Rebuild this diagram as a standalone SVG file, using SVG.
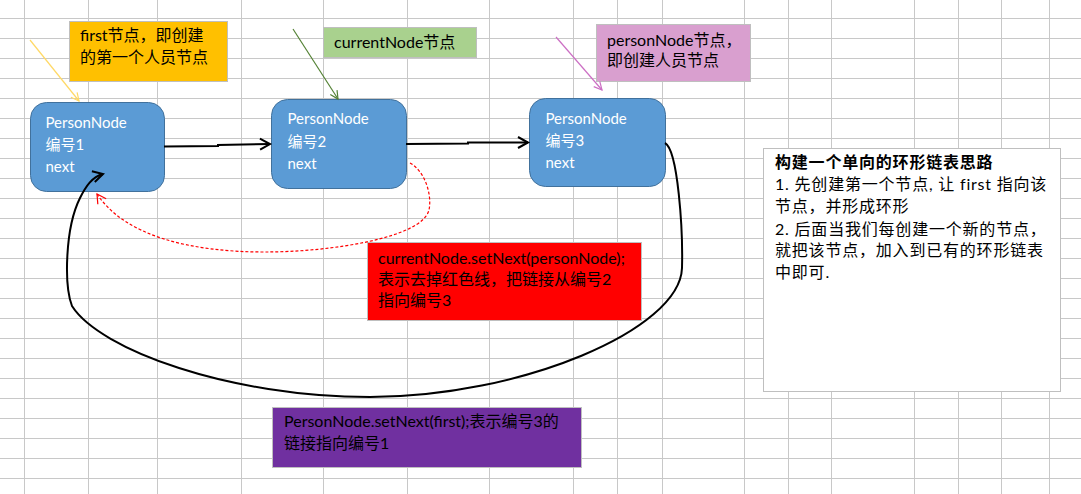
<svg xmlns="http://www.w3.org/2000/svg" width="1081" height="494" viewBox="0 0 1081 494">
<style>
text{font-family:Lato,"Noto Sans CJK SC",sans-serif;font-size:16px;fill:#000}
.nt{font-size:15px;fill:#fff}
.sm{letter-spacing:0.8px}
.box{stroke:#bfbfbf;stroke-width:1}
.node{fill:#5b9bd5;stroke:#41719c;stroke-width:1}
.grid{stroke:#c8c8c8;stroke-width:1;fill:none}
</style>
<defs>
<marker id="ab" viewBox="-12 -8 14 16" refX="0" refY="0" markerWidth="14" markerHeight="16" markerUnits="userSpaceOnUse" orient="auto" overflow="visible"><path d="M-10,-5.5 L0,0 L-10,5.5" fill="none" stroke="#000" stroke-width="2"/></marker>
<marker id="ar" viewBox="-12 -8 14 16" refX="0" refY="0" markerWidth="14" markerHeight="16" markerUnits="userSpaceOnUse" orient="auto" overflow="visible"><path d="M-9,-5 L0,0 L-9,5" fill="none" stroke="#ff0000" stroke-width="1.2"/></marker>
<marker id="ay" viewBox="-12 -8 14 16" refX="0" refY="0" markerWidth="14" markerHeight="16" markerUnits="userSpaceOnUse" orient="auto" overflow="visible"><path d="M-8,-4 L0,0 L-8,4" fill="none" stroke="#ffd966" stroke-width="1.2"/></marker>
<marker id="ag" viewBox="-12 -8 14 16" refX="0" refY="0" markerWidth="14" markerHeight="16" markerUnits="userSpaceOnUse" orient="auto" overflow="visible"><path d="M-8,-4 L0,0 L-8,4" fill="none" stroke="#548235" stroke-width="1.2"/></marker>
<marker id="ap" viewBox="-12 -8 14 16" refX="0" refY="0" markerWidth="14" markerHeight="16" markerUnits="userSpaceOnUse" orient="auto" overflow="visible"><path d="M-8,-4 L0,0 L-8,4" fill="none" stroke="#cc6fc4" stroke-width="1.2"/></marker>
</defs>
<rect x="0" y="0" width="1081" height="494" fill="#fff"/>
<g id="grid">
<path class="grid" d="M24.5,0V494M88.5,0V494M157.5,0V494M241.5,0V494M323.5,0V494M407.5,0V494M489.5,0V494M573.5,0V494M617.5,0V494M662.5,0V494M744.5,0V494M788.5,0V494M831.5,0V494M914.5,0V494M958.5,0V494M1001.5,0V494M1049.5,0V494"/>
<path class="grid" d="M0,18.5H1081M0,38.5H1081M0,58.5H1081M0,78.5H1081M0,98.5H1081M0,118.5H1081M0,138.5H1081M0,158.5H1081M0,178.5H1081M0,198.5H1081M0,218.5H1081M0,238.5H1081M0,258.5H1081M0,278.5H1081M0,298.5H1081M0,318.5H1081M0,338.5H1081M0,358.5H1081M0,378.5H1081M0,398.5H1081M0,418.5H1081M0,438.5H1081M0,458.5H1081M0,478.5H1081"/>
</g>
<g id="first-label">
<rect class="box" x="69.5" y="21.5" width="158" height="60" fill="#ffc000"/>
<text x="80" y="41">first节点，即创建</text>
<text x="80" y="63">的第一个人员节点</text>
</g>
<g id="current-label">
<rect class="box" x="323.5" y="27.5" width="153" height="30" fill="#a9d18e"/>
<text x="334" y="48">currentNode节点</text>
</g>
<g id="person-label">
<rect class="box" x="596.5" y="24.5" width="154" height="57" fill="#d99fcf"/>
<text x="607" y="46">personNode节点，</text>
<text x="607" y="66">即创建人员节点</text>
</g>
<g id="node1">
<rect class="node" x="30.5" y="102.5" width="134" height="89" rx="16"/>
<text class="nt" x="45.5" y="128">PersonNode</text>
<text class="nt" x="45.5" y="150">编号1</text>
<text class="nt" x="45.5" y="172">next</text>
</g>
<g id="node2">
<rect class="node" x="271.5" y="99.5" width="135" height="89" rx="16"/>
<text class="nt" x="287.5" y="124">PersonNode</text>
<text class="nt" x="287.5" y="147">编号2</text>
<text class="nt" x="287.5" y="169">next</text>
</g>
<g id="node3">
<rect class="node" x="529.5" y="98.5" width="136" height="88" rx="16"/>
<text class="nt" x="545.5" y="124">PersonNode</text>
<text class="nt" x="545.5" y="146">编号3</text>
<text class="nt" x="545.5" y="168">next</text>
</g>
<g id="red-note">
<rect class="box" x="367.5" y="242.5" width="274" height="78" fill="#ff0000"/>
<text x="378" y="264">currentNode.setNext(personNode);</text>
<text x="378" y="285">表示去掉红色线，把链接从编号2</text>
<text x="378" y="306">指向编号3</text>
</g>
<g id="purple-note">
<rect class="box" x="272.5" y="407.5" width="309" height="60" fill="#7030a0"/>
<text x="284" y="427">PersonNode.setNext(first);表示编号3的</text>
<text x="284" y="449">链接指向编号1</text>
</g>
<g id="summary">
<rect class="box" x="763.5" y="148.5" width="297" height="243" fill="#fff"/>
<text class="sm" x="775" y="168" font-weight="bold">构建一个单向的环形链表思路</text>
<text class="sm" x="775" y="190">1. 先创建第一个节点, 让 first 指向该</text>
<text class="sm" x="775" y="212">节点，并形成环形</text>
<text class="sm" x="775" y="234.5">2. 后面当我们每创建一个新的节点，</text>
<text class="sm" x="775" y="256">就把该节点，加入到已有的环形链表</text>
<text class="sm" x="775" y="278">中即可.</text>
</g>
<g id="connectors" fill="none">
<path d="M30,40 L79,101" stroke="#ffd966" stroke-width="1.2" marker-end="url(#ay)"/>
<path d="M293,29 L338,99" stroke="#548235" stroke-width="1.2" marker-end="url(#ag)"/>
<path d="M556,37 L602,90" stroke="#cc6fc4" stroke-width="1.2" marker-end="url(#ap)"/>
<path d="M164,146.5 L218,146 L218,145 L270,144" stroke="#000" stroke-width="2" marker-end="url(#ab)"/>
<path d="M406,144 L468,143.5 L468,142.5 L528,142.5" stroke="#000" stroke-width="2" marker-end="url(#ab)"/>
<path d="M665,143 C678,150 683,230 682,268 C680,330 520,397 370,397 C230,397 100,350 72,306 C64,285 65,228 80,198 C86,186 92,177 103,174" stroke="#000" stroke-width="2" marker-end="url(#ab)"/>
<path d="M410,163 C426,172 432,196 429,210 C422,238 330,252 265,252 C190,252 125,236 97,194" stroke="#ff0000" stroke-width="1.2" stroke-dasharray="3,2" marker-end="url(#ar)"/>
</g>
</svg>
